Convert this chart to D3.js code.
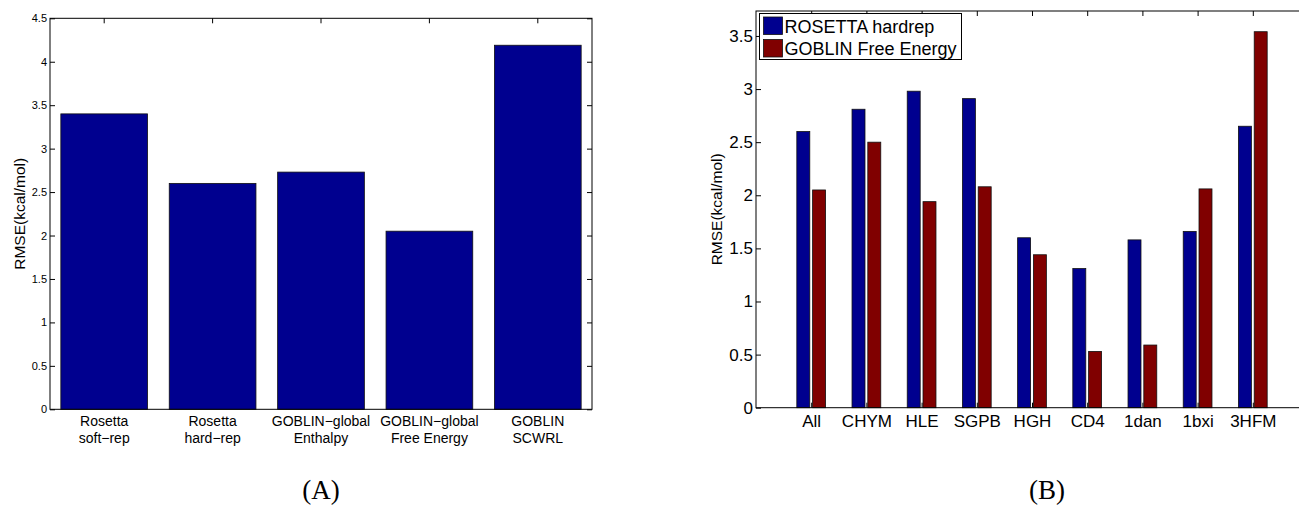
<!DOCTYPE html>
<html>
<head>
<meta charset="utf-8">
<script src="https://cdn.jsdelivr.net/npm/d3@7"></script>
<style>
  body { margin: 0; background: #fff; }
  svg { display: block; font-family: "Liberation Sans", Arial, sans-serif; }
  .axis path, .axis line { stroke: #000; }
  .axis text { fill: #000; }
</style>
</head>
<body>
<script>
// Panel A data
const methodLabels = ["Rosetta\nsoft−rep", "Rosetta\nhard−rep", "GOBLIN−global\nEnthalpy", "GOBLIN−global\nFree Energy", "GOBLIN\nSCWRL"];
const methodRmse = [3.40, 2.60, 2.73, 2.05, 4.19];
const ticksA = [0, 0.5, 1, 1.5, 2, 2.5, 3, 3.5, 4, 4.5];

// Panel B data
const complexes = ["All", "CHYM", "HLE", "SGPB", "HGH", "CD4", "1dan", "1bxi", "3HFM"];
const rosettaHardrep = [2.60, 2.81, 2.98, 2.91, 1.60, 1.31, 1.58, 1.66, 2.65];
const goblinFreeEnergy = [2.05, 2.50, 1.94, 2.08, 1.44, 0.53, 0.59, 2.06, 3.54];
const seriesNames = ["ROSETTA hardrep", "GOBLIN Free Energy"];
const ticksB = [0, 0.5, 1, 1.5, 2, 2.5, 3, 3.5];

const panelNames = ["(A)", "(B)"];

const width = 1299;
const height = 506;
const blue = "#00008f";
const red = "#800000";

const svg = d3.select("body").append("svg")
    .attr("width", width)
    .attr("height", height);

svg.append("rect").attr("width", width).attr("height", height).attr("fill", "#fff");

// ---------- Panel A ----------
const boxA = { left: 50, right: 592, top: 18.3, bottom: 409.3 };
const xA = d3.scaleBand().domain(methodLabels).range([boxA.left, boxA.right])
    .paddingInner(0.2).paddingOuter(0.1);
const yA = d3.scaleLinear().domain([0, 4.5]).range([boxA.bottom, boxA.top]);

const gA = svg.append("g");

// inward ticks
gA.append("g").attr("class", "axis")
    .attr("transform", `translate(${boxA.left},0)`)
    .call(d3.axisLeft(yA).tickValues(ticksA).tickSize(-5).tickSizeOuter(0).tickPadding(3).tickFormat(d => d))
    .call(g => g.selectAll("text").attr("font-size", 11))
    .call(g => g.select(".domain").remove());
gA.append("g").attr("class", "axis")
    .attr("transform", `translate(${boxA.right},0)`)
    .call(d3.axisRight(yA).tickValues(ticksA).tickSize(-5).tickSizeOuter(0).tickFormat(""))
    .call(g => g.select(".domain").remove());
gA.append("g").attr("class", "axis")
    .attr("transform", `translate(0,${boxA.top})`)
    .call(d3.axisTop(xA).tickSize(-5).tickSizeOuter(0).tickFormat(""))
    .call(g => g.select(".domain").remove());

// bars
gA.append("g").selectAll("rect")
    .data(methodRmse)
    .join("rect")
    .attr("x", (d, i) => xA(methodLabels[i]))
    .attr("y", d => yA(d))
    .attr("width", xA.bandwidth())
    .attr("height", d => yA(0) - yA(d))
    .attr("fill", blue)
    .attr("stroke", "#111")
    .attr("stroke-width", 0.8);

// frame
gA.append("rect")
    .attr("x", boxA.left).attr("y", boxA.top)
    .attr("width", boxA.right - boxA.left).attr("height", boxA.bottom - boxA.top)
    .attr("fill", "none").attr("stroke", "#000").attr("stroke-width", 1);

// category labels (two lines)
const labA = gA.append("g").selectAll("text")
    .data(methodLabels)
    .join("text")
    .attr("text-anchor", "middle")
    .attr("font-size", 14)
    .attr("x", d => xA(d) + xA.bandwidth() / 2)
    .attr("y", 426);
labA.selectAll("tspan")
    .data(d => d.split("\n"))
    .join("tspan")
    .attr("x", function () { return d3.select(this.parentNode).attr("x"); })
    .attr("dy", (d, i) => i === 0 ? 0 : 16.5)
    .text(d => d);

gA.append("text")
    .attr("transform", `translate(25,${(boxA.top + boxA.bottom) / 2}) rotate(-90)`)
    .attr("text-anchor", "middle")
    .attr("font-size", 15.5)
    .text("RMSE(kcal/mol)");

// ---------- Panel B ----------
const boxB = { left: 756, right: 1308, top: 11, bottom: 407.7 };
const xB = d3.scaleLinear().domain([0, complexes.length + 1]).range([boxB.left, boxB.right]);
const yB = d3.scaleLinear().domain([0, 3.735]).range([boxB.bottom, boxB.top]);
const barOffset = 0.143;
const barWidth = 0.235;

const gB = svg.append("g");

gB.append("g").attr("class", "axis")
    .attr("transform", `translate(${boxB.left},0)`)
    .call(d3.axisLeft(yB).tickValues(ticksB).tickSize(-5).tickSizeOuter(0).tickPadding(3).tickFormat(d => d))
    .call(g => g.selectAll("text").attr("font-size", 17))
    .call(g => g.select(".domain").remove());
gB.append("g").attr("class", "axis")
    .attr("transform", `translate(0,${boxB.top})`)
    .call(d3.axisTop(xB).tickValues(d3.range(1, complexes.length + 1)).tickSize(-5).tickSizeOuter(0).tickFormat(""))
    .call(g => g.select(".domain").remove());
gB.append("g").attr("class", "axis")
    .attr("transform", `translate(0,${boxB.bottom})`)
    .call(d3.axisBottom(xB).tickValues(d3.range(1, complexes.length + 1)).tickSize(-5).tickSizeOuter(0)
        .tickPadding(7).tickFormat(d => complexes[d - 1]))
    .call(g => g.selectAll("text").attr("font-size", 17))
    .call(g => g.select(".domain").remove());

const series = [
    { name: seriesNames[0], values: rosettaHardrep, color: blue, offset: -barOffset },
    { name: seriesNames[1], values: goblinFreeEnergy, color: red, offset: barOffset }
];

gB.append("g").selectAll("g")
    .data(series)
    .join("g")
    .attr("fill", s => s.color)
    .selectAll("rect")
    .data(s => s.values.map((v, i) => ({ v, i, off: s.offset })))
    .join("rect")
    .attr("x", d => xB(d.i + 1 + d.off - barWidth / 2))
    .attr("y", d => yB(d.v))
    .attr("width", d => xB(barWidth) - xB(0))
    .attr("height", d => yB(0) - yB(d.v))
    .attr("stroke", "#111")
    .attr("stroke-width", 0.8);

gB.append("rect")
    .attr("x", boxB.left).attr("y", boxB.top)
    .attr("width", boxB.right - boxB.left).attr("height", boxB.bottom - boxB.top)
    .attr("fill", "none").attr("stroke", "#000").attr("stroke-width", 1);

gB.append("text")
    .attr("transform", `translate(722,${(boxB.top + boxB.bottom) / 2}) rotate(-90)`)
    .attr("text-anchor", "middle")
    .attr("font-size", 15.5)
    .text("RMSE(kcal/mol)");

// legend
const legend = gB.append("g").attr("transform", "translate(759.5,13.5)");
legend.append("rect")
    .attr("width", 202).attr("height", 46)
    .attr("fill", "#fff").attr("stroke", "#000").attr("stroke-width", 1);
const item = legend.selectAll("g.item")
    .data(series)
    .join("g")
    .attr("class", "item")
    .attr("transform", (d, i) => `translate(4,${3.5 + i * 22.5})`);
item.append("rect")
    .attr("width", 19).attr("height", 17.5)
    .attr("fill", d => d.color).attr("stroke", "#111").attr("stroke-width", 0.8);
item.append("text")
    .attr("x", 21).attr("y", 15.5)
    .attr("font-size", 18)
    .text(d => d.name);

// panel captions
svg.append("g").selectAll("text")
    .data(panelNames)
    .join("text")
    .attr("x", (d, i) => i === 0 ? 321 : 1047)
    .attr("y", 499)
    .attr("text-anchor", "middle")
    .attr("font-family", "'Liberation Serif', 'Times New Roman', serif")
    .attr("font-size", 27)
    .text(d => d);
</script>
</body>
</html>
